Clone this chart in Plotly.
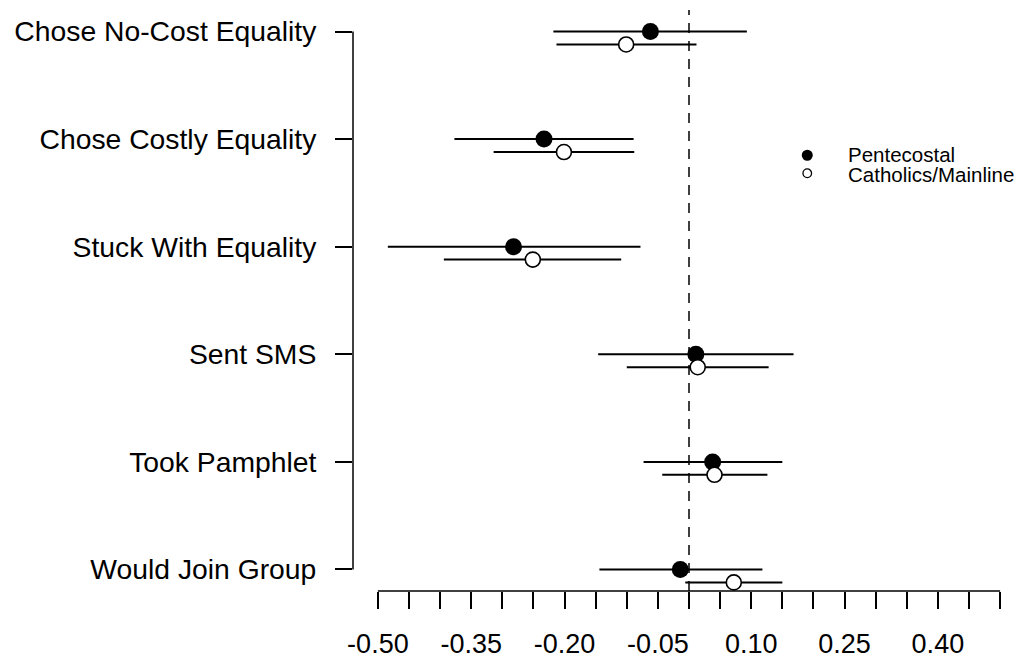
import plotly.graph_objects as go

# ---------------- data ----------------
categories = ["Chose No-Cost Equality", "Chose Costly Equality", "Stuck With Equality",
              "Sent SMS", "Took Pamphlet", "Would Join Group"]

pent_est = [-0.062, -0.233, -0.282, 0.011, 0.038, -0.014]
pent_lo = [-0.218, -0.377, -0.484, -0.146, -0.073, -0.144]
pent_hi = [0.093, -0.089, -0.078, 0.168, 0.150, 0.118]

cath_est = [-0.101, -0.201, -0.251, 0.014, 0.041, 0.072]
cath_lo = [-0.213, -0.314, -0.394, -0.100, -0.043, -0.006]
cath_hi = [0.012, -0.088, -0.109, 0.128, 0.126, 0.150]

series_names = ["Pentecostal", "Catholics/Mainline"]

x_tick_vals = [-0.50, -0.45, -0.40, -0.35, -0.30, -0.25, -0.20, -0.15, -0.10, -0.05, 0.00,
               0.05, 0.10, 0.15, 0.20, 0.25, 0.30, 0.35, 0.40, 0.45, 0.50]
x_tick_labels = ["-0.50", "", "", "-0.35", "", "", "-0.20", "", "", "-0.05", "",
                 "", "0.10", "", "", "0.25", "", "", "0.40", "", ""]

# ---------------- layout helpers ----------------
FONT = "Liberation Sans, Arial, Helvetica, sans-serif"
n = len(categories)
y_pos = [n - i for i in range(n)]          # top category highest
offset = 0.12
y_pent = y_pos
y_cath = [y - offset for y in y_pos]

fig = go.Figure()

fig.add_trace(go.Scatter(
    x=pent_est, y=y_pent, mode="markers", name=series_names[0], showlegend=False,
    marker=dict(symbol="circle", size=17, color="black", line=dict(width=0)),
    error_x=dict(type="data", symmetric=False,
                 array=[h - e for h, e in zip(pent_hi, pent_est)],
                 arrayminus=[e - l for e, l in zip(pent_est, pent_lo)],
                 color="black", thickness=2, width=0),
))
fig.add_trace(go.Scatter(
    x=cath_est, y=y_cath, mode="markers", name=series_names[1], showlegend=False,
    marker=dict(symbol="circle", size=15, color="white", line=dict(width=1.6, color="black")),
    error_x=dict(type="data", symmetric=False,
                 array=[h - e for h, e in zip(cath_hi, cath_est)],
                 arrayminus=[e - l for e, l in zip(cath_est, cath_lo)],
                 color="black", thickness=2, width=0),
))

shapes = [
    # dashed reference line at zero
    dict(type="line", xref="x", yref="paper", x0=0, x1=0, y0=0, y1=1,
         line=dict(color="black", width=1.5, dash="10px,8px"), layer="below"),
    # x axis line (spans first to last tick, R style)
    dict(type="line", xref="x", yref="paper", x0=x_tick_vals[0], x1=x_tick_vals[-1], y0=0, y1=0,
         line=dict(color="black", width=1.5)),
    # y axis line
    dict(type="line", xref="paper", yref="y", x0=0, x1=0, y0=min(y_pos), y1=max(y_pos),
         line=dict(color="black", width=1.5)),
    # legend symbols
    dict(type="circle", xref="paper", yref="paper", xsizemode="pixel", ysizemode="pixel",
         xanchor=0.676, yanchor=0.750, x0=-5.5, x1=5.5, y0=-5.5, y1=5.5,
         fillcolor="black", line=dict(width=0)),
    dict(type="circle", xref="paper", yref="paper", xsizemode="pixel", ysizemode="pixel",
         xanchor=0.676, yanchor=0.719, x0=-4.3, x1=4.3, y0=-4.3, y1=4.3,
         fillcolor="white", line=dict(width=1.3, color="black")),
]

annotations = [
    dict(text=series_names[0], xref="paper", yref="paper", x=0.734, y=0.751,
         xanchor="left", yanchor="middle", showarrow=False,
         font=dict(family=FONT, size=20.5, color="black")),
    dict(text=series_names[1], xref="paper", yref="paper", x=0.734, y=0.717,
         xanchor="left", yanchor="middle", showarrow=False,
         font=dict(family=FONT, size=20.5, color="black")),
]

fig.update_layout(
    width=1026, height=662,
    margin=dict(l=353, r=1, t=10, b=71),
    paper_bgcolor="white", plot_bgcolor="white",
    font=dict(family=FONT, color="black"),
    showlegend=False,
    shapes=shapes, annotations=annotations,
    xaxis=dict(range=[-0.54, 0.54], tickmode="array", tickvals=x_tick_vals, ticktext=x_tick_labels,
               ticks="outside", ticklen=17, tickwidth=1.5, tickcolor="black",
               showgrid=False, zeroline=False, showline=False,
               tickfont=dict(family=FONT, size=27, color="black"), ticklabelstandoff=12),
    yaxis=dict(range=[0.8, 6.2], tickmode="array", tickvals=y_pos, ticktext=categories,
               ticks="outside", ticklen=17, tickwidth=1.5, tickcolor="black",
               showgrid=False, zeroline=False, showline=False,
               tickfont=dict(family=FONT, size=28.3, color="black"), ticklabelstandoff=13),
)

fig.write_html("out.html", config={"displayModeBar": False},
               post_script="document.body.style.margin='0';document.body.style.overflow='hidden';")
